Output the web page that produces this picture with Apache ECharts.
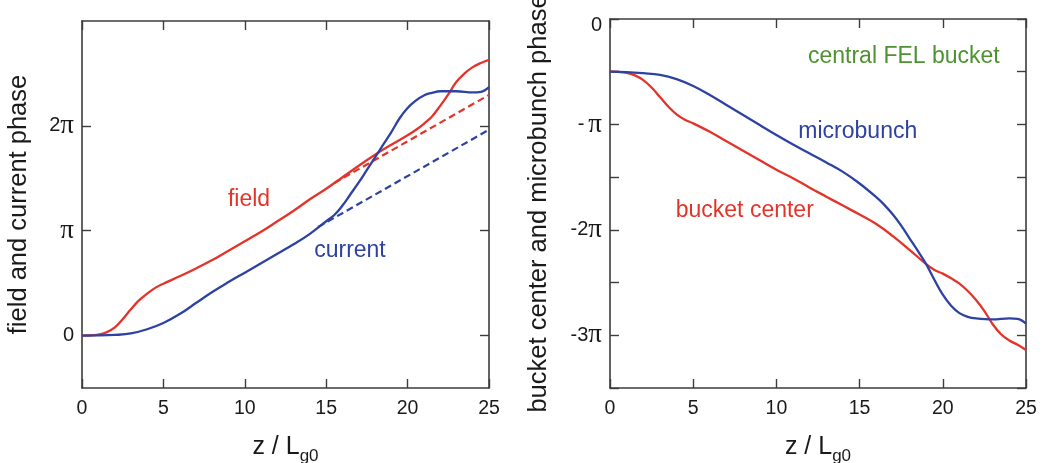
<!DOCTYPE html>
<html>
<head>
<meta charset="utf-8">
<script src="https://cdn.jsdelivr.net/npm/echarts@6/dist/echarts.min.js"></script>
<style>
  html, body { margin: 0; padding: 0; background: #fff; }
  #chart { width: 1045px; height: 463px; }
</style>
</head>
<body>
<div id="chart"></div>
<script>
// ---- Data (phases in units of pi) ----
const xTicks = [0, 5, 10, 15, 20, 25];

// Left panel: field and current phase
const fieldZ     = [0, 0.5, 1, 1.5, 2, 2.5, 3, 3.5, 4, 4.5, 5, 6, 7, 8, 9, 10, 11, 12, 13, 14, 15, 16, 17, 18, 19, 20, 20.5, 21, 21.5, 22, 22.5, 23, 23.5, 24, 24.5, 25];
const fieldPhase = [0, 0.001, 0.008, 0.03, 0.075, 0.155, 0.25, 0.335, 0.40, 0.455, 0.495, 0.565, 0.64, 0.72, 0.81, 0.90, 0.99, 1.09, 1.19, 1.30, 1.40, 1.51, 1.62, 1.725, 1.82, 1.91, 1.96, 2.02, 2.09, 2.19, 2.30, 2.42, 2.50, 2.56, 2.60, 2.63];
const currentZ     = [0, 1, 2, 3, 4, 5, 6, 7, 8, 9, 10, 11, 12, 13, 14, 15, 15.5, 16, 16.5, 17, 17.5, 18, 18.5, 19, 19.5, 20, 20.5, 21, 21.5, 22, 23, 24, 24.5, 25];
const currentPhase = [0, 0.001, 0.006, 0.02, 0.06, 0.12, 0.205, 0.31, 0.415, 0.51, 0.60, 0.69, 0.78, 0.87, 0.97, 1.09, 1.15, 1.24, 1.35, 1.46, 1.58, 1.70, 1.82, 1.94, 2.07, 2.17, 2.24, 2.29, 2.315, 2.33, 2.33, 2.32, 2.325, 2.37];
const fieldFitZ = [15.5, 25];
const fieldFitPhase = [1.455, 2.295];
const currentFitZ = [14.5, 25];
const currentFitPhase = [1.035, 1.963];

// Right panel: bucket center and microbunch phase
const bucketZ     = [0, 0.5, 1, 1.5, 2, 2.5, 3, 3.5, 4, 4.5, 5, 6, 7, 8, 9, 10, 11, 12, 13, 14, 15, 16, 17, 18, 19, 19.5, 20, 20.5, 21, 21.5, 22, 22.5, 23, 23.5, 24, 24.5, 25];
const bucketPhase = [-0.5, -0.502, -0.51, -0.535, -0.58, -0.65, -0.74, -0.83, -0.905, -0.955, -0.99, -1.07, -1.16, -1.25, -1.34, -1.43, -1.51, -1.60, -1.685, -1.77, -1.855, -1.945, -2.06, -2.19, -2.325, -2.38, -2.415, -2.46, -2.51, -2.58, -2.665, -2.77, -2.895, -2.99, -3.05, -3.09, -3.14];
const bunchZ     = [0, 1, 2, 3, 4, 5, 6, 7, 8, 9, 10, 11, 12, 13, 14, 15, 16, 16.5, 17, 17.5, 18, 18.5, 19, 19.5, 20, 20.5, 21, 21.5, 22, 23, 24, 24.5, 25];
const bunchPhase = [-0.5, -0.503, -0.514, -0.53, -0.57, -0.635, -0.72, -0.815, -0.91, -1.005, -1.10, -1.19, -1.275, -1.36, -1.45, -1.56, -1.69, -1.765, -1.855, -1.96, -2.08, -2.20, -2.325, -2.475, -2.615, -2.72, -2.79, -2.825, -2.84, -2.85, -2.84, -2.845, -2.89];

// Tick labels (rich text: {n|number part}{p|pi})
const leftYLabels = { '0': '{n|0}', '1': '{p|π}', '2': '{n|2}{p|π}' };
const rightYLabels = { '0': '{top|0}', '-1': '{n|-\u2009}{p|π}', '-2': '{n|-2}{p|π}', '-3': '{n|-3}{p|π}' };

// Annotations: [text, grid, z, phase, color]
const notes = [
  ['field', 0, 10.26, 1.30, 'red'],
  ['current', 0, 16.46, 0.81, 'blue'],
  ['central FEL bucket', 1, 17.66, -0.36, 'green'],
  ['microbunch', 1, 14.89, -1.065, 'blue'],
  ['bucket center', 1, 8.10, -1.816, 'red']
];

// ---- Style ----
const FONT = '"Liberation Sans", Arial, Helvetica, sans-serif';
const SERIF = '"Liberation Serif", "DejaVu Serif", serif';
const C = { red: '#e3342b', blue: '#2e42a2', green: '#4f9232', axis: '#3c3c3c', text: '#1a1a1a' };

const zip = (a, b) => a.map((v, i) => [v, b[i]]);
const yRich = {
  n: { fontFamily: FONT, fontSize: 20, color: C.text },
  top: { fontFamily: FONT, fontSize: 20, color: C.text, padding: [13, 0, 0, 0] },
  p: { fontFamily: SERIF, fontSize: 27, color: C.text }
};

function xAx(grid, pos, show) {
  return {
    type: 'value', gridIndex: grid, position: pos, min: 0, max: 25, interval: 5,
    axisLine: { show: true, onZero: false, lineStyle: { color: C.axis, width: 1.6 } },
    axisTick: { show: true, inside: true, length: 9, lineStyle: { color: C.axis, width: 1.4 } },
    axisLabel: { show: show, fontFamily: FONT, fontSize: 19.5, color: C.text, margin: 11 },
    splitLine: { show: false },
    name: show ? 'z / L{sub|g0}' : '',
    nameLocation: 'middle', nameGap: 47,
    nameTextStyle: { fontFamily: FONT, fontSize: 25, color: C.text,
      rich: { sub: { fontFamily: FONT, fontSize: 17, color: C.text, verticalAlign: 'bottom', padding: [0, 0, -5, 0] } } }
  };
}

function yAxPair(grid, min, max, interval, tickVals, labels, name, gap) {
  const base = {
    type: 'value', gridIndex: grid, min: min, max: max, interval: interval,
    axisLine: { show: true, onZero: false, lineStyle: { color: C.axis, width: 1.6 } },
    splitLine: { show: false }
  };
  const tick = { show: true, inside: true, length: 9, lineStyle: { color: C.axis, width: 1.4 } };
  if (tickVals) tick.customValues = tickVals;
  const left = Object.assign({}, base, {
    position: 'left', axisTick: tick,
    axisLabel: { margin: 8, rich: yRich,
      formatter: v => (Math.abs(v - Math.round(v)) < 1e-6 ? (labels[String(Math.round(v))] ?? '') : '') },
    name: name, nameLocation: 'middle', nameGap: gap,
    nameTextStyle: { fontFamily: FONT, fontSize: 25.5, color: C.text }
  });
  if (tickVals) left.axisLabel.customValues = tickVals;
  const right = Object.assign({}, base, { position: 'right', axisTick: tick, axisLabel: { show: false } });
  return [left, right];
}

const option = {
  backgroundColor: '#fff',
  animation: false,
  grid: [
    { left: 82, top: 21, width: 407, height: 367, containLabel: false, outerBoundsMode: 'none' },
    { left: 610, top: 19, width: 416, height: 369, containLabel: false, outerBoundsMode: 'none' }
  ],
  xAxis: [xAx(0, 'bottom', true), xAx(0, 'top', false), xAx(1, 'bottom', true), xAx(1, 'top', false)],
  yAxis: [
    ...yAxPair(0, -0.5, 3, 0.5, [0, 1, 2], leftYLabels, 'field and current phase', 50),
    ...yAxPair(1, -3.5, 0, 0.5, null, rightYLabels, 'bucket center and microbunch phase', 58)
  ],
  series: [
    { type: 'line', xAxisIndex: 0, yAxisIndex: 0, data: zip(fieldFitZ, fieldFitPhase), showSymbol: false,
      lineStyle: { color: C.red, width: 2.2, type: [7, 4] } },
    { type: 'line', xAxisIndex: 0, yAxisIndex: 0, data: zip(currentFitZ, currentFitPhase), showSymbol: false,
      lineStyle: { color: C.blue, width: 2.2, type: [7, 4] } },
    { type: 'line', xAxisIndex: 0, yAxisIndex: 0, data: zip(fieldZ, fieldPhase), showSymbol: false, smooth: 0.4,
      lineStyle: { color: C.red, width: 2.3 } },
    { type: 'line', xAxisIndex: 0, yAxisIndex: 0, data: zip(currentZ, currentPhase), showSymbol: false, smooth: 0.4,
      lineStyle: { color: C.blue, width: 2.3 } },
    { type: 'line', xAxisIndex: 2, yAxisIndex: 2, data: zip(bucketZ, bucketPhase), showSymbol: false, smooth: 0.4,
      lineStyle: { color: C.red, width: 2.3 } },
    { type: 'line', xAxisIndex: 2, yAxisIndex: 2, data: zip(bunchZ, bunchPhase), showSymbol: false, smooth: 0.4,
      lineStyle: { color: C.blue, width: 2.3 } }
  ]
};

const chart = echarts.init(document.getElementById('chart'), null, { renderer: 'canvas' });
chart.setOption(option);

const graphics = notes.map(([text, g, z, p, col]) => {
  const pt = chart.convertToPixel({ xAxisIndex: g * 2, yAxisIndex: g * 2 }, [z, p]);
  return {
    type: 'text', x: pt[0], y: pt[1],
    style: { text: text, fill: C[col], font: '23px ' + FONT, textAlign: 'center', textVerticalAlign: 'middle' }
  };
});
chart.setOption({ graphic: graphics });
</script>
</body>
</html>
